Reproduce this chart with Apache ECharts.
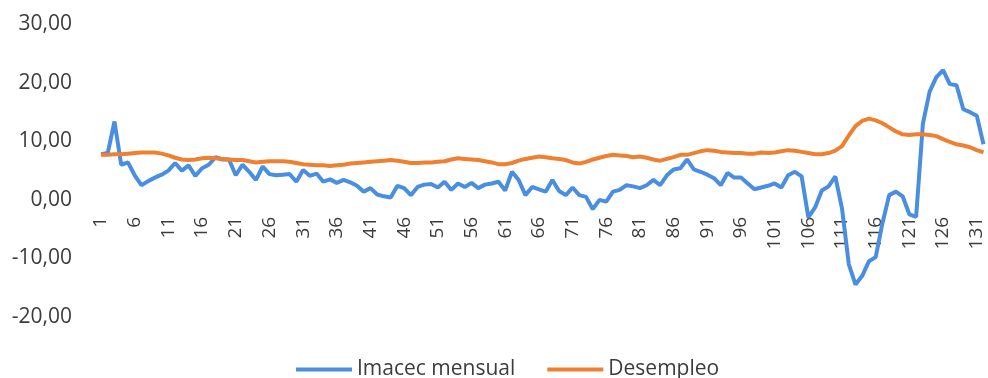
<!DOCTYPE html>
<html>
<head>
<meta charset="utf-8">
<script src="https://cdn.jsdelivr.net/npm/echarts@6/dist/echarts.min.js"></script>
<style>
  html, body { margin: 0; padding: 0; background: #ffffff; }
  #chart { width: 988px; height: 378px; }
</style>
</head>
<body>
<div id="chart"></div>
<script>
// Monthly periods 1..132
const periods = [];
for (let i = 1; i <= 132; i++) periods.push(String(i));

// Imacec mensual (% var.)
const imacec = [
  7.8, 8.0, 13.4, 6.0, 6.4, 4.2, 2.5, 3.2, 3.8, 4.3,
  5.0, 6.3, 5.0, 5.9, 4.1, 5.4, 6.0, 7.3, 6.9, 6.9,
  4.2, 6.0, 4.8, 3.4, 5.7, 4.4, 4.2, 4.3, 4.4, 3.1,
  5.1, 4.1, 4.5, 3.1, 3.5, 2.9, 3.4, 3.0, 2.4, 1.4,
  2.0, 0.9, 0.6, 0.4, 2.4, 2.0, 0.8, 2.2, 2.6, 2.7,
  2.1, 3.1, 1.7, 2.8, 2.2, 2.9, 2.0, 2.6, 2.8, 3.1,
  1.6, 4.8, 3.4, 0.8, 2.2, 1.8, 1.4, 3.4, 1.5, 0.8,
  2.1, 0.8, 0.5, -1.6, 0.0, -0.3, 1.4, 1.7, 2.5, 2.3,
  2.0, 2.5, 3.4, 2.5, 4.2, 5.2, 5.4, 6.9, 5.2, 4.8,
  4.3, 3.7, 2.5, 4.6, 3.8, 3.8, 2.8, 1.8, 2.1, 2.4,
  2.8, 2.1, 4.2, 4.8, 4.0, -3.0, -1.3, 1.6, 2.3, 4.0,
  -1.5, -11.0, -14.5, -13.0, -10.5, -9.8, -4.0, 0.8, 1.4, 0.6,
  -2.5, -2.9, 13.0, 18.5, 21.0, 22.2, 19.8, 19.6, 15.5, 15.0,
  14.4, 9.5
];

// Desempleo (%)
const desempleo = [
  7.7, 7.7, 7.8, 7.8, 7.9, 8.0, 8.1, 8.1, 8.1, 7.9,
  7.6, 7.2, 6.9, 6.8, 6.9, 7.1, 7.2, 7.1, 7.0, 6.9,
  6.8, 6.8, 6.6, 6.4, 6.5, 6.6, 6.6, 6.6, 6.5, 6.3,
  6.1, 6.0, 5.9, 5.9, 5.8, 5.9, 6.0, 6.2, 6.3, 6.4,
  6.5, 6.6, 6.7, 6.8, 6.7, 6.5, 6.3, 6.3, 6.4, 6.4,
  6.5, 6.6, 6.9, 7.1, 7.0, 6.9, 6.8, 6.6, 6.4, 6.1,
  6.1, 6.3, 6.7, 7.0, 7.2, 7.4, 7.3, 7.1, 7.0, 6.8,
  6.4, 6.2, 6.5, 6.9, 7.2, 7.5, 7.7, 7.6, 7.5, 7.3,
  7.4, 7.2, 6.9, 6.7, 7.0, 7.3, 7.7, 7.7, 8.0, 8.3,
  8.5, 8.4, 8.2, 8.1, 8.0, 8.0, 7.9, 7.9, 8.1, 8.0,
  8.1, 8.3, 8.5, 8.4, 8.2, 8.0, 7.8, 7.8, 8.0, 8.4,
  9.2, 11.0, 12.6, 13.5, 13.9, 13.6, 13.1, 12.4, 11.7, 11.2,
  11.1, 11.2, 11.2, 11.1, 10.9, 10.4, 9.9, 9.5, 9.3, 9.0,
  8.5, 8.1
];

// Value axis range and step
const yMin = -20, yMax = 30, yStep = 10;

const seriesNames = ['Imacec mensual', 'Desempleo'];
const seriesColors = ['#4a8ee0', '#ee8030'];

const font = "'Open Sans', 'Noto Sans', sans-serif";
const textColor = '#3c3c3c';

const W = 988, H = 378;
const grid = { left: 101, right: 4.5, top: 24.5, bottom: 61.3 };
// Lift the category labels from the bottom edge up to the zero line
const plotHeight = H - grid.top - grid.bottom;
const zeroLift = -plotHeight * (0 - yMin) / (yMax - yMin);

const chart = echarts.init(document.getElementById('chart'), null, { renderer: 'canvas' });
chart.setOption({
  animation: false,
  backgroundColor: '#ffffff',
  grid: Object.assign({ containLabel: false }, grid),
  legend: {
    left: 296,
    top: 359,
    padding: 0,
    icon: 'rect',
    itemWidth: 56,
    itemHeight: 4,
    itemGap: 32,
    textStyle: { fontFamily: font, fontSize: 21, color: textColor },
    data: seriesNames
  },
  xAxis: {
    type: 'category',
    data: periods,
    boundaryGap: false,
    offset: zeroLift,
    axisLine: { show: false, onZero: false },
    axisTick: { show: false },
    splitLine: { show: false },
    axisLabel: {
      interval: 4,
      rotate: 90,
      margin: 17,
      fontFamily: font,
      fontSize: 19,
      color: textColor
    }
  },
  yAxis: {
    type: 'value',
    min: yMin,
    max: yMax,
    interval: yStep,
    axisLine: { show: false },
    axisTick: { show: false },
    splitLine: { show: false },
    axisLabel: {
      margin: 29,
      fontFamily: font,
      fontSize: 21,
      color: textColor,
      formatter: v => v.toFixed(2).replace('.', ',')
    }
  },
  series: [
    {
      name: seriesNames[0],
      type: 'line',
      data: imacec,
      showSymbol: false,
      lineStyle: { width: 4, color: seriesColors[0] },
      itemStyle: { color: seriesColors[0] }
    },
    {
      name: seriesNames[1],
      type: 'line',
      data: desempleo,
      showSymbol: false,
      lineStyle: { width: 4, color: seriesColors[1] },
      itemStyle: { color: seriesColors[1] }
    }
  ]
});
</script>
</body>
</html>
